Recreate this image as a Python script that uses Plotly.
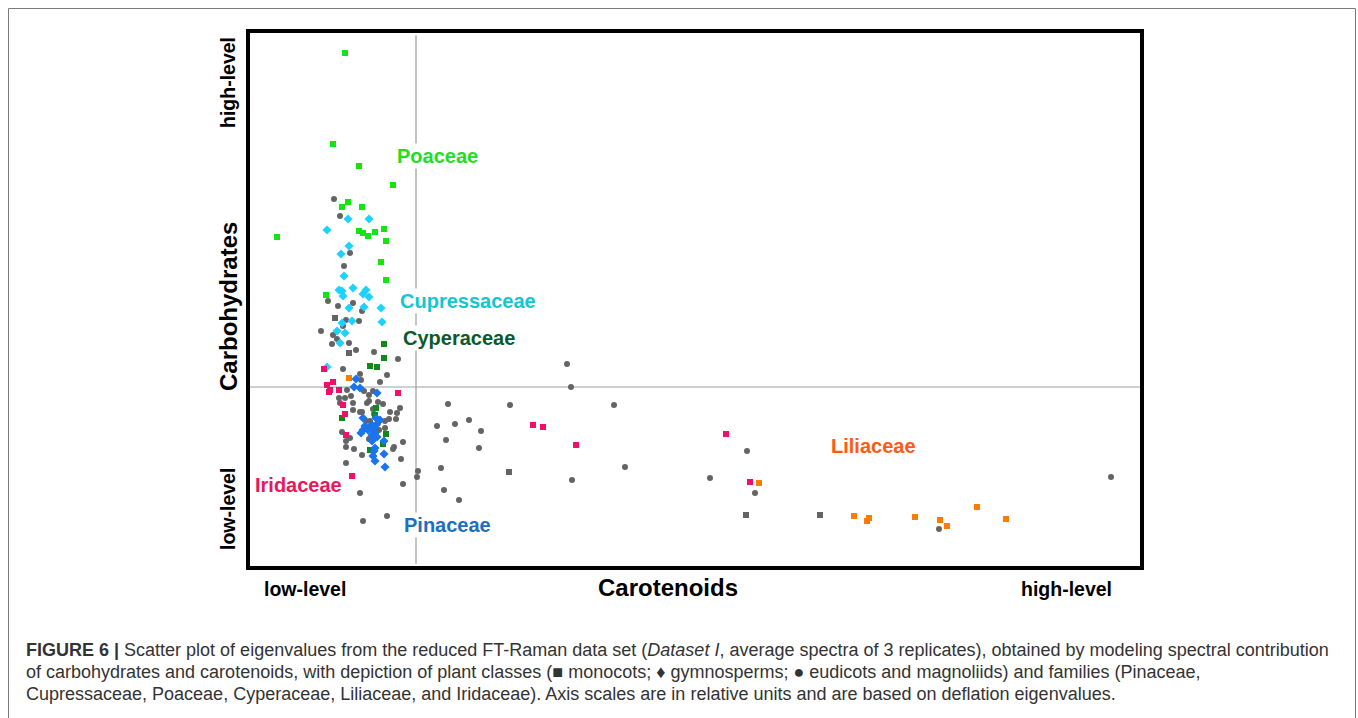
import plotly.graph_objects as go

# ---- data (relative units, origin at crosshair) ----
poaceae_x = [-0.71, -0.83, -0.57, -0.23, -0.68, -0.74, -0.54, -1.39, -0.57, -0.53, -0.48, -0.41, -0.32, -0.30, -0.35, -0.30, -0.90]
poaceae_y = [3.34, 2.43, 2.21, 2.02, 1.85, 1.80, 1.80, 1.50, 1.56, 1.54, 1.51, 1.55, 1.58, 1.46, 1.25, 1.07, 0.92]

cupress_x = [-0.68, -0.47, -0.89, -0.67, -0.75, -0.72, -0.77, -0.74, -0.63, -0.50, -0.53, -0.47, -0.73, -0.67, -0.52, -0.35, -0.74, -0.64, -0.34, -0.79, -0.71, -0.76, -0.89]
cupress_y = [1.68, 1.68, 1.57, 1.41, 1.33, 1.11, 0.97, 0.96, 0.99, 0.97, 0.93, 0.90, 0.91, 0.79, 0.80, 0.79, 0.64, 0.66, 0.65, 0.56, 0.54, 0.44, 0.20]

cyper_x = [-0.32, -0.32, -0.46, -0.39, -0.40, -0.74, -0.41, -0.30, -0.33, -0.46]
cyper_y = [0.43, 0.29, 0.21, 0.20, -0.21, -0.31, -0.28, -0.47, -0.57, -0.63]

irid_x = [-0.92, -0.83, -0.89, -0.86, -0.87, -0.77, -0.18, -0.73, -0.71, -0.70, -0.64, 1.17, 1.27, 1.60, 3.10, 3.34]
irid_y = [0.18, 0.05, 0.02, -0.03, -0.05, -0.03, -0.06, -0.18, -0.27, -0.48, -0.89, -0.38, -0.40, -0.58, -0.47, -0.95]

lili_x = [-0.67, 3.43, 4.38, 4.53, 4.51, 4.99, 5.24, 5.31, 5.61, 5.90]
lili_y = [0.09, -0.96, -1.29, -1.31, -1.34, -1.30, -1.33, -1.39, -1.20, -1.32]

pin_x = [-0.60, -0.62, -0.56, -0.39, -0.53, -0.40, -0.36, -0.44, -0.40, -0.51, -0.47, -0.42, -0.53, -0.48,
         -0.55, -0.41, -0.44, -0.39, -0.43, -0.44, -0.32, -0.41, -0.42, -0.43, -0.32, -0.41, -0.31]
pin_y = [0.08, 0.00, -0.01, -0.06, -0.31, -0.31, -0.33, -0.38, -0.38, -0.39, -0.41, -0.41, -0.43, -0.43,
         -0.46, -0.46, -0.48, -0.50, -0.52, -0.54, -0.54, -0.61, -0.64, -0.69, -0.67, -0.74, -0.80]

mono_x = [-0.81, -0.67, 0.93, 3.30, 4.04]
mono_y = [0.69, 0.34, -0.85, -1.28, -1.28]

eudi_x = [-0.82, -0.76, -0.66, -0.72, -0.88, -0.78, -0.63, -0.54, -0.70, -0.73, -0.57, -0.95, -0.83, -0.79,
          -0.84, -0.67, -0.60, -0.42, -0.18, -0.73, -0.56, -0.29, -0.55, -0.36, -0.69, -0.52, -0.43, -0.65,
          -0.77, -0.47, -0.71, -0.38, -0.33, -0.76, -0.63, -0.49, -0.47, -0.16, -0.43, -0.63, -0.56, -0.54,
          -0.42, -0.26, -0.19, -0.20, -0.27, -0.31, -0.50, -0.46, -0.38, -0.42, -0.37, -0.31, -0.74, -0.70,
          -0.66, -0.47, -0.70, -0.62, -0.22, -0.23, -0.13, -0.54, -0.15, -0.70, -0.56, -0.13, -0.29, -0.53,
          0.32, 0.21, 0.02, 0.01, 0.25, 0.28, 1.51, 1.55, 0.94, 1.98, 0.39, 0.53, 0.65, 0.30, 0.63, 2.09,
          1.56, 0.43, 3.31, 2.94, 3.39, 5.23, 6.95]
eudi_y = [1.88, 1.71, 1.34, 1.21, 0.86, 0.81, 0.84, 0.76, 0.67, 0.61, 0.66, 0.56, 0.52, 0.48,
          0.43, 0.44, 0.37, 0.35, 0.28, 0.18, 0.13, 0.12, 0.07, 0.05, -0.03, -0.04, -0.04, -0.09,
          -0.11, -0.08, -0.11, -0.15, -0.17, -0.16, -0.16, -0.16, -0.14, -0.21, -0.22, -0.23, -0.25, -0.25,
          -0.27, -0.25, -0.26, -0.32, -0.32, -0.34, -0.34, -0.34, -0.36, -0.44, -0.43, -0.41, -0.45, -0.54,
          -0.51, -0.52, -0.60, -0.62, -0.60, -0.62, -0.55, -0.68, -0.72, -0.76, -1.06, -0.97, -1.29, -1.34,
          -0.17, -0.39, -0.84, -0.90, -0.81, -1.03, 0.23, 0.00, -0.18, -0.18, -0.37, -0.33, -0.44, -0.53, -0.61, -0.80,
          -0.93, -1.13, -0.64, -0.91, -1.06, -1.42, -0.90]

x_range = [-1.68, 7.26]
y_range = [-1.81, 3.56]

# family labels: text, x, y, colour
fam_text = ["Poaceae", "Cupressaceae", "Cyperaceae", "Iridaceae", "Pinaceae", "Liliaceae"]
fam_x = [-0.21, -0.18, -0.15, -1.63, -0.14, 4.13]
fam_y = [2.31, 0.86, 0.49, -0.98, -1.38, -0.59]
fam_col = ["#1ee01e", "#12c6d2", "#0b5a2c", "#e8185c", "#1d6fc0", "#ff5a10"]

# ---- layout geometry (pixels) ----
W, H = 1358, 718
L, R, T, B = 248, 1142, 31, 568


def px(xp):
    return (xp - L) / (R - L)


def py(yp):
    return (B - yp) / (B - T)


fig = go.Figure()

def add(xs, ys, color, symbol, size):
    fig.add_trace(go.Scatter(x=xs, y=ys, mode="markers",
                             marker=dict(color=color, symbol=symbol, size=size, line=dict(width=0)),
                             hoverinfo="skip", showlegend=False))

add(eudi_x, eudi_y, "#646464", "circle", 6)
add(mono_x, mono_y, "#646464", "square", 6)
add(cupress_x, cupress_y, "#1ed2ff", "diamond", 7)
add(poaceae_x, poaceae_y, "#12e612", "square", 6)
add(cyper_x, cyper_y, "#0f8a1a", "square", 6)
add(irid_x, irid_y, "#f0106a", "square", 6)
add(lili_x, lili_y, "#ff7a00", "square", 6)
add(pin_x, pin_y, "#1a74ec", "diamond", 7)

shapes = [
    # crosshair lines
    dict(type="line", xref="x", yref="paper", x0=0, x1=0, y0=0.008, y1=0.992,
         line=dict(color="#c4c4c4", width=2), layer="below"),
    dict(type="line", xref="paper", yref="y", x0=0, x1=1, y0=0, y1=0,
         line=dict(color="#a0a0a0", width=1), layer="below"),
    # thick frame
    dict(type="rect", xref="paper", yref="paper", x0=0, x1=1, y0=0, y1=1,
         line=dict(color="black", width=4)),
    # outer figure border
    dict(type="rect", xref="paper", yref="paper", x0=px(8.5), x1=px(1355.5), y0=py(730), y1=py(8.5),
         line=dict(color="#7a7a7a", width=1)),
]

ann = []
for t, xx, yy, c in zip(fam_text, fam_x, fam_y, fam_col):
    ann.append(dict(text="<b>%s</b>" % t, x=xx, y=yy, xref="x", yref="y", xanchor="left", yanchor="middle",
                    showarrow=False, bgcolor="white", borderpad=1,
                    font=dict(family="Liberation Sans, Arial", size=20, color=c)))

axfont = dict(family="Liberation Sans, Arial", color="black")
ax_ann = [
    dict(text="<b>high-level</b>", x=px(228), y=py(83), textangle=-90, font=dict(size=19.5, **axfont)),
    dict(text="<b>Carbohydrates</b>", x=px(228), y=py(307), textangle=-90, font=dict(size=24, **axfont)),
    dict(text="<b>low-level</b>", x=px(228), y=py(509), textangle=-90, font=dict(size=19.5, **axfont)),
    dict(text="<b>low-level</b>", x=px(305), y=py(589), font=dict(size=19.5, **axfont)),
    dict(text="<b>Carotenoids</b>", x=px(668), y=py(587), font=dict(size=24, **axfont)),
    dict(text="<b>high-level</b>", x=px(1066), y=py(589), font=dict(size=19.5, **axfont)),
]
for a in ax_ann:
    a.update(xref="paper", yref="paper", showarrow=False, xanchor="center", yanchor="middle")
ann += ax_ann

cap_lines = [
    "<b>FIGURE 6 |</b> Scatter plot of eigenvalues from the reduced FT-Raman data set (<i>Dataset I</i>, average spectra of 3 replicates), obtained by modeling spectral contribution",
    "of carbohydrates and carotenoids, with depiction of plant classes (\u25a0 monocots; \u2666 gymnosperms; \u25cf eudicots and magnoliids) and families (Pinaceae,",
    "Cupressaceae, Poaceae, Cyperaceae, Liliaceae, and Iridaceae). Axis scales are in relative units and are based on deflation eigenvalues.",
]
cap_y = [650, 672, 694]
for t, yy in zip(cap_lines, cap_y):
    ann.append(dict(text=t, x=px(24), y=py(yy), xref="paper", yref="paper", xanchor="left", yanchor="middle",
                    showarrow=False, font=dict(family="Liberation Sans, Arial", size=18, color="#333333")))

fig.update_layout(
    width=W, height=H, autosize=False,
    margin=dict(l=L, r=W - R, t=T, b=H - B, pad=0),
    paper_bgcolor="white", plot_bgcolor="white",
    xaxis=dict(range=x_range, showgrid=False, zeroline=False, showticklabels=False, ticks="", fixedrange=True),
    yaxis=dict(range=y_range, showgrid=False, zeroline=False, showticklabels=False, ticks="", fixedrange=True),
    shapes=shapes, annotations=ann,
)

fig.write_html("out.html", config={"displayModeBar": False})
